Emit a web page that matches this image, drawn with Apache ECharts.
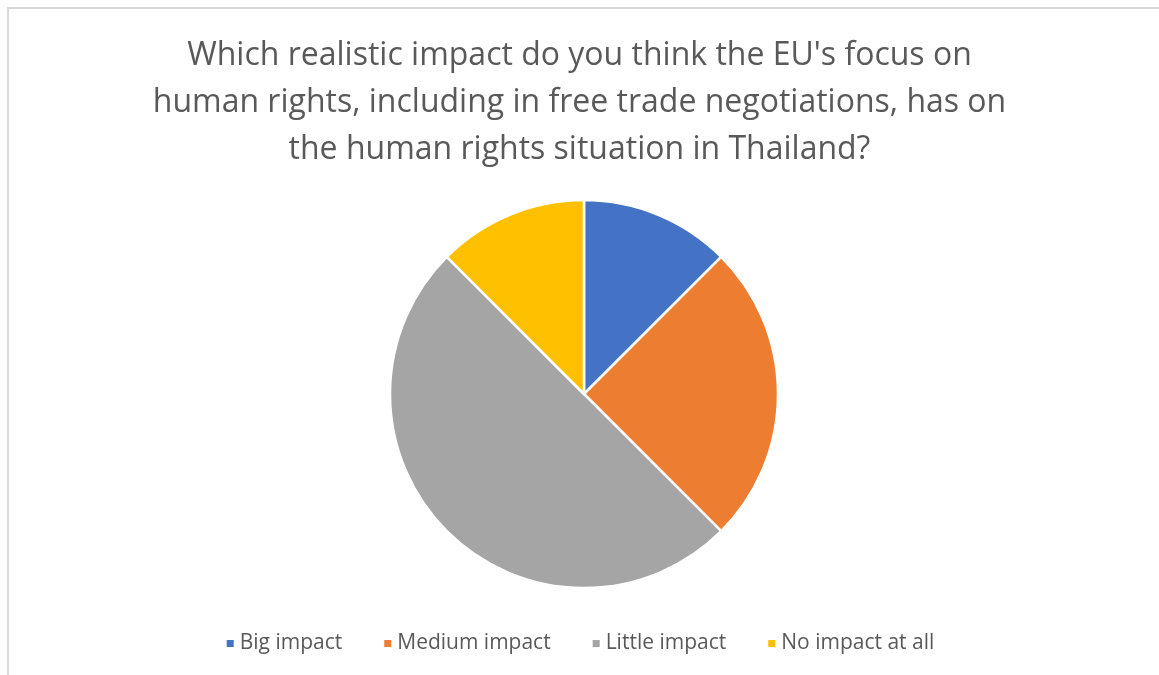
<!DOCTYPE html>
<html>
<head>
<meta charset="utf-8">
<script src="https://cdn.jsdelivr.net/npm/echarts@6/dist/echarts.min.js"></script>
<style>
  html, body { margin: 0; padding: 0; background: #fff; }
  #chart { width: 1159px; height: 675px; }
</style>
</head>
<body>
<div id="chart"></div>
<script>
// Survey answers
const categories = ['Big impact', 'Medium impact', 'Little impact', 'No impact at all'];
const responses = [1, 2, 4, 1];
const sliceColors = ['#4472C4', '#ED7D31', '#A5A5A5', '#FFC000'];
const titleText = "Which realistic impact do you think the EU's focus on\nhuman rights, including in free trade negotiations, has on\nthe human rights situation in Thailand?";

const chart = echarts.init(document.getElementById('chart'), null, { renderer: 'canvas' });

chart.setOption({
  backgroundColor: '#ffffff',
  animation: false,
  title: {
    text: titleText,
    left: 'center',
    top: 27,
    textStyle: {
      fontFamily: 'Open Sans',
      fontWeight: 'normal',
      fontSize: 32,
      lineHeight: 47,
      color: '#595959'
    }
  },
  legend: {
    data: categories,
    bottom: 16,
    left: 'center',
    icon: 'rect',
    itemWidth: 9,
    itemHeight: 9,
    itemGap: 40,
    textStyle: {
      fontFamily: 'Open Sans',
      fontSize: 21,
      color: '#595959'
    }
  },
  graphic: [{
    type: 'rect',
    shape: { x: 8, y: 8, width: 1170, height: 700 },
    style: { fill: 'none', stroke: '#D9D9D9', lineWidth: 2 },
    silent: true,
    z: -10
  }],
  series: [{
    type: 'pie',
    center: [584, 394],
    radius: 194,
    startAngle: 90,
    clockwise: true,
    label: { show: false },
    labelLine: { show: false },
    itemStyle: { borderColor: '#ffffff', borderWidth: 2.5 },
    emphasis: { disabled: true },
    data: categories.map((name, i) => ({
      name,
      value: responses[i],
      itemStyle: { color: sliceColors[i] }
    }))
  }]
});
</script>
</body>
</html>
